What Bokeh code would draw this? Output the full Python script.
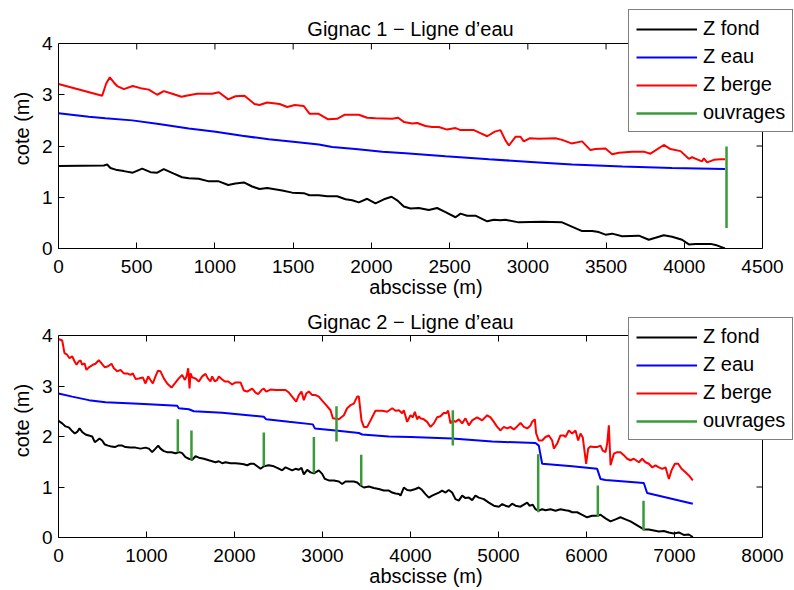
import math
from bokeh.plotting import figure
from bokeh.models import Range1d, FixedTicker, Legend, LegendItem, Label
from bokeh.layouts import column
from bokeh.embed import file_html
from bokeh.resources import INLINE

FONT = "Liberation Sans"

# ---------------- Gignac 1 ----------------
title1 = "Gignac 1 \u2212 Ligne d\u2019eau"
x_ticks1 = [0, 500, 1000, 1500, 2000, 2500, 3000, 3500, 4000, 4500]
y_ticks = [0, 1, 2, 3, 4]

fond1_x = [0, 290, 311, 332, 375, 418, 475, 535, 588, 631,
           673, 737, 790, 833, 897, 961, 1025, 1085, 1131, 1185,
           1238, 1285, 1334, 1430, 1494, 1568, 1604, 1664, 1717, 1781,
           1835, 1877, 1920, 1973, 2026, 2080, 2129, 2165, 2207, 2250,
           2303, 2367, 2420, 2474, 2538, 2570, 2612, 2665, 2740, 2783,
           2825, 2857, 2942, 3092, 3219, 3347, 3411, 3454, 3496, 3539,
           3603, 3710, 3773, 3816, 3869, 3922, 3986, 4029, 4072, 4168,
           4200, 4260]
fond1_y = [1.61, 1.62, 1.64, 1.57, 1.53, 1.51, 1.48, 1.56, 1.49, 1.48,
           1.55, 1.46, 1.39, 1.37, 1.36, 1.31, 1.31, 1.24, 1.27, 1.29,
           1.21, 1.16, 1.18, 1.13, 1.09, 1.08, 1.04, 1.04, 1.02, 1.02,
           0.96, 0.94, 0.90, 0.97, 0.88, 0.96, 1.01, 0.94, 0.82, 0.78,
           0.79, 0.75, 0.79, 0.71, 0.61, 0.68, 0.64, 0.64, 0.53, 0.56,
           0.55, 0.56, 0.51, 0.52, 0.51, 0.34, 0.34, 0.32, 0.27, 0.29,
           0.24, 0.25, 0.17, 0.21, 0.26, 0.23, 0.17, 0.08, 0.09, 0.09,
           0.07, 0.00]

eau1_x = [0, 194, 300, 471, 641, 833, 1004, 1174, 1344, 1515, 1664,
          1749, 1898, 2069, 2218, 2474, 2751, 3070, 3283, 3603, 3922, 4260]
eau1_y = [2.64, 2.57, 2.54, 2.50, 2.43, 2.34, 2.28, 2.20, 2.13, 2.08, 2.03,
          1.98, 1.94, 1.89, 1.86, 1.80, 1.74, 1.68, 1.64, 1.60, 1.57, 1.55]

berge1_x = [0, 279, 305, 328, 354, 375, 418, 475, 535, 577,
            631, 673, 727, 786, 833, 886, 982, 1025, 1085, 1131,
            1189, 1253, 1285, 1334, 1413, 1462, 1511, 1568, 1604, 1660,
            1724, 1781, 1830, 1920, 1973, 2026, 2133, 2171, 2207, 2261,
            2293, 2346, 2388, 2431, 2484, 2538, 2570, 2655, 2697, 2740,
            2789, 2825, 2857, 2879, 2921, 2953, 2974, 3011, 3070, 3177,
            3219, 3279, 3347, 3400, 3432, 3496, 3539, 3582, 3667, 3741,
            3784, 3869, 3912, 3976, 4029, 4050, 4082, 4114, 4125, 4146,
            4189, 4232, 4260]
berge1_y = [3.21, 2.98, 3.22, 3.34, 3.24, 3.17, 3.11, 3.17, 3.12, 3.10,
            3.00, 3.07, 3.02, 2.96, 2.99, 3.02, 3.02, 3.05, 2.91, 2.97,
            2.98, 2.82, 2.80, 2.85, 2.82, 2.76, 2.80, 2.78, 2.63, 2.63,
            2.52, 2.53, 2.61, 2.61, 2.55, 2.54, 2.53, 2.55, 2.47, 2.44,
            2.45, 2.39, 2.37, 2.37, 2.32, 2.35, 2.31, 2.31, 2.25, 2.19,
            2.28, 2.31, 2.11, 2.01, 2.18, 2.18, 2.09, 2.15, 2.14, 2.15,
            2.12, 2.05, 2.09, 1.92, 1.94, 1.95, 1.84, 1.87, 1.89, 1.89,
            1.85, 2.02, 1.94, 1.90, 1.75, 1.78, 1.74, 1.70, 1.76, 1.68,
            1.73, 1.74, 1.74]

ouv1_x = [4270]
ouv1_bas = [0.40]
ouv1_haut = [1.99]

# ---------------- Gignac 2 ----------------
title2 = "Gignac 2 \u2212 Ligne d\u2019eau"
x_ticks2 = [0, 1000, 2000, 3000, 4000, 5000, 6000, 7000, 8000]

fond2_x = [0, 42, 80, 117, 148, 186, 212, 239, 269, 307,
           345, 383, 413, 439, 466, 496, 527, 564, 602, 640,
           678, 724, 761, 818, 875, 932, 989, 1027, 1064, 1102,
           1133, 1159, 1197, 1235, 1284, 1330, 1375, 1405, 1443, 1481,
           1519, 1557, 1595, 1652, 1708, 1746, 1784, 1822, 1860, 1898,
           1955, 2011, 2068, 2106, 2144, 2182, 2220, 2258, 2296, 2333,
           2390, 2447, 2485, 2542, 2580, 2618, 2655, 2693, 2731, 2761,
           2788, 2826, 2864, 2902, 2958, 2996, 3027, 3072, 3129, 3186,
           3224, 3261, 3299, 3356, 3394, 3432, 3470, 3527, 3583, 3640,
           3697, 3754, 3792, 3830, 3868, 3887, 3924, 3962, 4000, 4057,
           4095, 4132, 4170, 4208, 4246, 4284, 4322, 4360, 4398, 4435,
           4473, 4511, 4549, 4587, 4625, 4663, 4701, 4738, 4776, 4833,
           4890, 4947, 5004, 5042, 5079, 5117, 5155, 5193, 5250, 5288,
           5326, 5352, 5390, 5420, 5451, 5496, 5534, 5591, 5648, 5704,
           5761, 5799, 5837, 5894, 5951, 6007, 6064, 6121, 6159, 6216,
           6273, 6330, 6386, 6443, 6500, 6557, 6614, 6651, 6708, 6765,
           6822, 6879, 6936, 6992, 7049, 7106, 7163, 7208]
fond2_y = [2.31, 2.26, 2.20, 2.18, 2.12, 2.06, 2.09, 2.16, 2.09, 2.04,
           2.02, 2.00, 1.89, 1.92, 1.96, 1.92, 1.84, 1.82, 1.80, 1.79,
           1.82, 1.82, 1.79, 1.78, 1.78, 1.76, 1.78, 1.76, 1.69, 1.76,
           1.82, 1.76, 1.71, 1.69, 1.69, 1.67, 1.69, 1.67, 1.59, 1.56,
           1.54, 1.61, 1.58, 1.56, 1.53, 1.51, 1.49, 1.51, 1.47, 1.49,
           1.47, 1.47, 1.46, 1.45, 1.43, 1.46, 1.46, 1.41, 1.36, 1.41,
           1.43, 1.41, 1.38, 1.33, 1.39, 1.36, 1.33, 1.36, 1.34, 1.38,
           1.25, 1.34, 1.29, 1.27, 1.33, 1.26, 1.16, 1.13, 1.13, 1.11,
           1.06, 1.11, 1.11, 1.11, 1.09, 1.03, 0.99, 1.01, 0.98, 0.96,
           0.93, 0.93, 0.89, 0.87, 0.86, 0.83, 0.99, 0.94, 0.93, 0.96,
           0.99, 0.94, 0.86, 0.79, 0.83, 0.86, 0.89, 0.93, 0.89, 0.94,
           0.89, 0.76, 0.73, 0.83, 0.78, 0.79, 0.74, 0.83, 0.79, 0.76,
           0.69, 0.63, 0.61, 0.66, 0.63, 0.61, 0.67, 0.63, 0.61, 0.65,
           0.69, 0.63, 0.65, 0.56, 0.53, 0.56, 0.54, 0.56, 0.53, 0.56,
           0.54, 0.53, 0.50, 0.50, 0.45, 0.40, 0.43, 0.43, 0.45, 0.38,
           0.32, 0.36, 0.40, 0.36, 0.32, 0.26, 0.20, 0.16, 0.16, 0.14,
           0.12, 0.13, 0.10, 0.08, 0.10, 0.05, 0.06, 0.01]

eau2_x = [0, 155, 345, 534, 913, 1349, 1367, 1481, 1538, 1860, 2333,
          2360, 2618, 2890, 2913, 3148, 3413, 3451, 3754, 4000, 4473,
          4928, 5420, 5458, 5496, 5837, 6121, 6159, 6216, 6651, 6689, 7208]
eau2_y = [2.85, 2.79, 2.72, 2.68, 2.65, 2.61, 2.56, 2.54, 2.50, 2.47, 2.39,
          2.34, 2.29, 2.24, 2.16, 2.12, 2.07, 2.04, 2.00, 1.99, 1.96,
          1.90, 1.87, 1.82, 1.46, 1.41, 1.36, 1.16, 1.14, 1.08, 0.88, 0.67]

berge2_x = [0, 42, 68, 98, 125, 155, 182, 205, 231, 250,
            269, 295, 318, 345, 390, 420, 458, 489, 527, 564,
            602, 629, 667, 705, 742, 780, 818, 845, 875, 913,
            958, 989, 1019, 1045, 1072, 1102, 1129, 1159, 1197, 1235,
            1284, 1322, 1367, 1405, 1436, 1455, 1474, 1489, 1500, 1519,
            1557, 1595, 1633, 1671, 1697, 1727, 1746, 1777, 1803, 1822,
            1860, 1890, 1928, 1974, 2011, 2068, 2106, 2144, 2201, 2239,
            2269, 2307, 2333, 2360, 2409, 2466, 2580, 2618, 2655, 2701,
            2731, 2761, 2788, 2815, 2845, 2883, 2921, 2958, 2996, 3042,
            3091, 3118, 3186, 3243, 3280, 3318, 3356, 3394, 3413, 3443,
            3470, 3508, 3546, 3602, 3678, 3735, 3792, 3830, 3868, 3905,
            3924, 3962, 4000, 4026, 4049, 4076, 4095, 4113, 4151, 4189,
            4227, 4265, 4303, 4341, 4379, 4405, 4428, 4454, 4481, 4511,
            4549, 4587, 4625, 4663, 4701, 4757, 4814, 4871, 4909, 4947,
            4985, 5023, 5060, 5098, 5136, 5174, 5212, 5250, 5288, 5326,
            5364, 5382, 5401, 5413, 5428, 5458, 5496, 5534, 5572, 5610,
            5629, 5667, 5704, 5742, 5761, 5799, 5837, 5875, 5905, 5932,
            5958, 5996, 6019, 6045, 6083, 6121, 6159, 6185, 6216, 6235,
            6254, 6273, 6311, 6348, 6386, 6424, 6462, 6500, 6538, 6595,
            6633, 6670, 6708, 6746, 6784, 6822, 6860, 6898, 6936, 6966,
            7004, 7042, 7080, 7125, 7163, 7208]
berge2_y = [3.93, 3.90, 3.65, 3.62, 3.55, 3.59, 3.49, 3.42, 3.49, 3.51,
            3.42, 3.45, 3.32, 3.37, 3.42, 3.44, 3.51, 3.45, 3.37, 3.39,
            3.44, 3.35, 3.29, 3.32, 3.25, 3.25, 3.22, 3.25, 3.14, 3.15,
            3.17, 3.05, 3.19, 3.12, 3.05, 3.19, 3.30, 3.29, 3.15, 3.05,
            2.97, 3.05, 3.15, 3.22, 3.12, 3.19, 3.35, 2.95, 3.25, 3.17,
            3.15, 3.09, 3.19, 3.24, 3.15, 3.09, 3.19, 3.09, 3.12, 3.19,
            3.13, 3.09, 3.09, 3.03, 3.07, 3.07, 2.91, 2.89, 2.95, 2.87,
            2.84, 2.92, 2.95, 2.89, 2.93, 2.92, 2.92, 2.87, 2.79, 2.69,
            2.82, 2.89, 2.72, 2.85, 2.89, 2.82, 2.82, 2.79, 2.71, 2.62,
            2.52, 2.36, 2.34, 2.42, 2.56, 2.62, 2.65, 2.79, 2.79, 2.32,
            2.19, 2.19, 2.32, 2.51, 2.51, 2.49, 2.56, 2.51, 2.52, 2.46,
            2.52, 2.29, 2.42, 2.38, 2.49, 2.34, 2.40, 2.36, 2.34, 2.29,
            2.19, 2.26, 2.38, 2.40, 2.47, 2.46, 2.51, 2.26, 2.32, 2.29,
            2.34, 2.26, 2.36, 2.22, 2.32, 2.38, 2.32, 2.42, 2.38, 2.29,
            2.19, 2.12, 2.19, 2.16, 2.19, 2.14, 2.20, 2.27, 2.19, 2.16,
            2.22, 2.29, 2.32, 2.34, 2.06, 1.92, 1.92, 1.99, 2.02, 1.92,
            1.76, 1.86, 2.02, 2.02, 1.99, 2.12, 2.06, 2.12, 1.92, 2.06,
            1.98, 1.46, 1.76, 1.80, 1.79, 1.79, 1.82, 1.72, 1.69, 1.86,
            2.22, 1.43, 1.66, 1.69, 1.69, 1.63, 1.56, 1.53, 1.56, 1.49,
            1.56, 1.49, 1.46, 1.39, 1.43, 1.39, 1.36, 1.39, 1.16, 1.33,
            1.46, 1.46, 1.36, 1.29, 1.23, 1.13]

ouv2_x = [1356, 1511, 2333, 2902, 3159, 3440, 4481, 5451, 6129, 6648]
ouv2_bas = [1.69, 1.54, 1.41, 1.27, 1.90, 1.03, 1.82, 0.50, 0.41, 0.14]
ouv2_haut = [2.34, 2.12, 2.08, 1.99, 2.60, 1.64, 2.52, 1.65, 1.03, 0.73]

legend_labels = ["Z fond", "Z eau", "Z berge", "ouvrages"]
colors = ["black", "#0000ff", "#ff0000", "#3a9a3a"]

# layout constants (pixels)
W = 794
BOX_LEFT = 58       # left edge of the axes box
BOX_W = 704         # width of the axes box
FRAME_RIGHT = 793   # drawable frame reaches the legend area


def style_axis(ax, ticks, label_standoff, axis_label, axis_standoff, bounds):
    ax.ticker = FixedTicker(ticks=ticks)
    ax.bounds = bounds
    ax.major_tick_in = 6
    ax.major_tick_out = 0
    ax.minor_tick_in = 0
    ax.minor_tick_out = 0
    ax.axis_line_color = "black"
    ax.axis_line_width = 1
    ax.major_tick_line_color = "black"
    ax.major_label_text_font = FONT
    ax.major_label_text_font_size = "19px"
    ax.major_label_text_color = "black"
    ax.major_label_standoff = label_standoff
    ax.axis_label = axis_label
    ax.axis_label_standoff = axis_standoff
    ax.axis_label_text_font = FONT
    ax.axis_label_text_font_size = "20px"
    ax.axis_label_text_font_style = "normal"
    ax.axis_label_text_color = "black"


def make_panel(title, xmax, xticks, height, frame_top, box_top, box_bottom,
               title_base, fx, fy, ex, ey, bx, by, ox, o0, o1, legend_y):
    ymax = y_ticks[-1]
    ppu_y = (box_bottom - box_top) / ymax
    ppu_x = BOX_W / xmax
    x_end = (FRAME_RIGHT - BOX_LEFT) / ppu_x
    y_end = (box_bottom - frame_top) / ppu_y

    p = figure(width=W, height=height, output_backend="svg",
               toolbar_location=None, title_location=None,
               x_range=Range1d(0, x_end), y_range=Range1d(0, y_end),
               min_border_left=BOX_LEFT, min_border_right=W - FRAME_RIGHT,
               min_border_top=frame_top, min_border_bottom=height - box_bottom)
    p.grid.visible = False
    p.outline_line_color = None
    p.background_fill_color = "white"
    p.border_fill_color = "white"

    style_axis(p.xaxis[0], xticks, 11, "abscisse (m)", 0, (0, xmax))
    style_axis(p.yaxis[0], y_ticks, 6, "cote (m)", 6, (0, ymax))

    # box: top and right edges with inward ticks
    p.segment(x0=[xticks[0]], y0=[ymax], x1=[xmax], y1=[ymax],
              line_color="black", line_width=1)
    p.segment(x0=[xmax], y0=[y_ticks[0]], x1=[xmax], y1=[ymax],
              line_color="black", line_width=1)
    p.ray(x=xticks[1:-1], y=[ymax] * (len(xticks) - 2), length=6,
          length_units="screen", angle=-math.pi / 2,
          line_color="black", line_width=1)
    p.ray(x=[xmax] * (len(y_ticks) - 2), y=y_ticks[1:-1], length=6,
          length_units="screen", angle=math.pi,
          line_color="black", line_width=1)

    r_f = p.line(fx, fy, line_color=colors[0], line_width=2)
    r_e = p.line(ex, ey, line_color=colors[1], line_width=2)
    r_b = p.line(bx, by, line_color=colors[2], line_width=2)
    r_o = p.segment(x0=ox, y0=o0, x1=ox, y1=o1, line_color=colors[3],
                    line_width=2.5)

    p.add_layout(Label(x=xmax / 2, y=ymax + (box_top - title_base) / ppu_y,
                       text=title, text_align="center",
                       text_baseline="alphabetic", text_font=FONT,
                       text_font_size="20px", text_color="black"))

    legend = Legend(items=[
        LegendItem(label=legend_labels[0], renderers=[r_f]),
        LegendItem(label=legend_labels[1], renderers=[r_e]),
        LegendItem(label=legend_labels[2], renderers=[r_b]),
        LegendItem(label=legend_labels[3], renderers=[r_o]),
    ], location=(570, legend_y))
    legend.border_line_color = "black"
    legend.border_line_width = 1
    legend.background_fill_color = "white"
    legend.background_fill_alpha = 1.0
    legend.label_text_font = FONT
    legend.label_text_font_size = "20px"
    legend.label_text_color = "black"
    legend.padding = 7
    legend.spacing = 5
    legend.margin = 0
    legend.glyph_width = 61
    legend.glyph_height = 20
    legend.label_height = 20
    legend.label_standoff = 6
    p.add_layout(legend, "center")
    return p


p1 = make_panel(title1, 4500, x_ticks1, 300, 8, 43, 248, 28,
                fond1_x, fond1_y, eau1_x, eau1_y, berge1_x, berge1_y,
                ouv1_x, ouv1_bas, ouv1_haut, 116)
p2 = make_panel(title2, 8000, x_ticks2, 290, 3, 35, 237, 21,
                fond2_x, fond2_y, eau2_x, eau2_y, berge2_x, berge2_y,
                ouv2_x, ouv2_bas, ouv2_haut, 97)

layout = column(p1, p2, spacing=0)
open("out.html", "w").write(file_html(layout, INLINE))
